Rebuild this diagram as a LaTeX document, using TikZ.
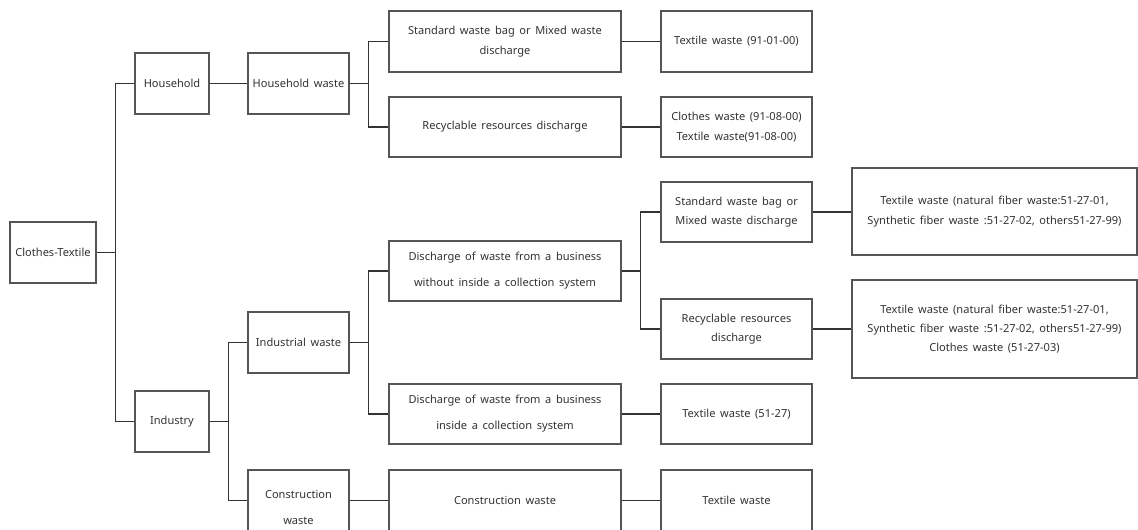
\documentclass[tikz,border=0pt]{standalone}
\usepackage{fontspec}
\setmainfont[WordSpace=1.6]{Noto Sans}
\definecolor{boxgray}{HTML}{555555}
\definecolor{linegray}{HTML}{333333}
\definecolor{txt}{HTML}{333333}
\begin{document}
\begin{tikzpicture}[x=0.75pt,y=-0.75pt,
  box/.style={draw=boxgray, line width=0.9pt, fill=white, align=center, inner sep=1pt, text=txt,
    font=\fontsize{8.3}{14.5}\selectfont},
  tall/.style={font=\fontsize{8.3}{19.5}\selectfont},
  bw/.style={minimum width=#1*0.75pt},
  bh/.style={minimum height=#1*0.75pt},
  conn/.style={draw=linegray, line width=0.8pt}]
\useasboundingbox (0,0) rectangle (1138,529);
\clip (0,0) rectangle (1138,529);
% column 1
\node[box,bw=86,bh=61] (A) at (53,252.5) {Clothes-Textile};
% column 2
\node[box,bw=74,bh=61] (B) at (172,83.5) {Household};
\node[box,bw=74,bh=61] (H) at (172,421.5) {Industry};
% column 3
\node[box,bw=101,bh=61] (C) at (298.5,83.5) {Household waste};
\node[box,bw=101,bh=61] (I) at (298.5,342.5) {Industrial waste};
\node[box,tall,bw=101,bh=61] (J) at (298.5,500.5) {\rule{0pt}{16pt}Construction\\waste};
% column 4
\node[box,bw=232,bh=61] (D) at (505,41.5) {Standard waste bag or Mixed waste\\discharge};
\node[box,bw=232,bh=60] (E) at (505,127) {Recyclable resources discharge};
\node[box,tall,bw=232,bh=60] (K) at (505,271) {Discharge of waste from a business\\without inside a collection system};
\node[box,tall,bw=232,bh=60] (L) at (505,414) {Discharge of waste from a business\\inside a collection system};
\node[box,bw=232,bh=61] (M) at (505,500.5) {Construction waste};
% column 5
\node[box,bw=151,bh=61] (F) at (736.5,41.5) {Textile waste (91-01-00)};
\node[box,bw=151,bh=60] (G) at (736.5,127) {Clothes waste (91-08-00)\\Textile waste(91-08-00)};
\node[box,bw=151,bh=60] (N) at (736.5,212) {Standard waste bag or\\Mixed waste discharge};
\node[box,bw=151,bh=60] (O) at (736.5,329) {Recyclable resources\\discharge};
\node[box,bw=151,bh=60] (P) at (736.5,414) {Textile waste (51-27)};
\node[box,bw=151,bh=61] (Q) at (736.5,500.5) {Textile waste};
% column 6
\node[box,bw=285,bh=87] (R) at (994.5,211.5) {Textile waste (natural fiber waste:51-27-01,\\Synthetic fiber waste :51-27-02, others51-27-99)};
\node[box,bw=285,bh=98] (S) at (994.5,329) {Textile waste (natural fiber waste:51-27-01,\\Synthetic fiber waste :51-27-02, others51-27-99)\\Clothes waste (51-27-03)};
% connectors
\draw[conn,line width=1.3pt] (A.east) -- ++(19,0) coordinate (a1);
\draw[conn] (a1) |- (B.west);
\draw[conn] (a1) |- (H.west);
\draw[conn] (B.east) -- (C.west);
\draw[conn] (C.east) -- ++(19,0) |- (D.west);
\draw[conn] (C.east) -- ++(19,0) |- (E.west);
\draw[conn] (D.east) -- (F.west);
\draw[conn] (E.east) -- (G.west);
\draw[conn] (H.east) -- ++(19,0) |- (I.west);
\draw[conn] (H.east) -- ++(19,0) |- (J.west);
\draw[conn] (I.east) -- ++(19,0) |- (K.west);
\draw[conn] (I.east) -- ++(19,0) |- (L.west);
\draw[conn] (J.east) -- (M.west);
\draw[conn] (K.east) -- ++(19,0) |- (N.west);
\draw[conn] (K.east) -- ++(19,0) |- (O.west);
\draw[conn] (L.east) -- (P.west);
\draw[conn] (M.east) -- (Q.west);
\draw[conn] (N.east) -- (N.east -| R.west);
\draw[conn] (O.east) -- (O.east -| S.west);
\end{tikzpicture}
\end{document}
